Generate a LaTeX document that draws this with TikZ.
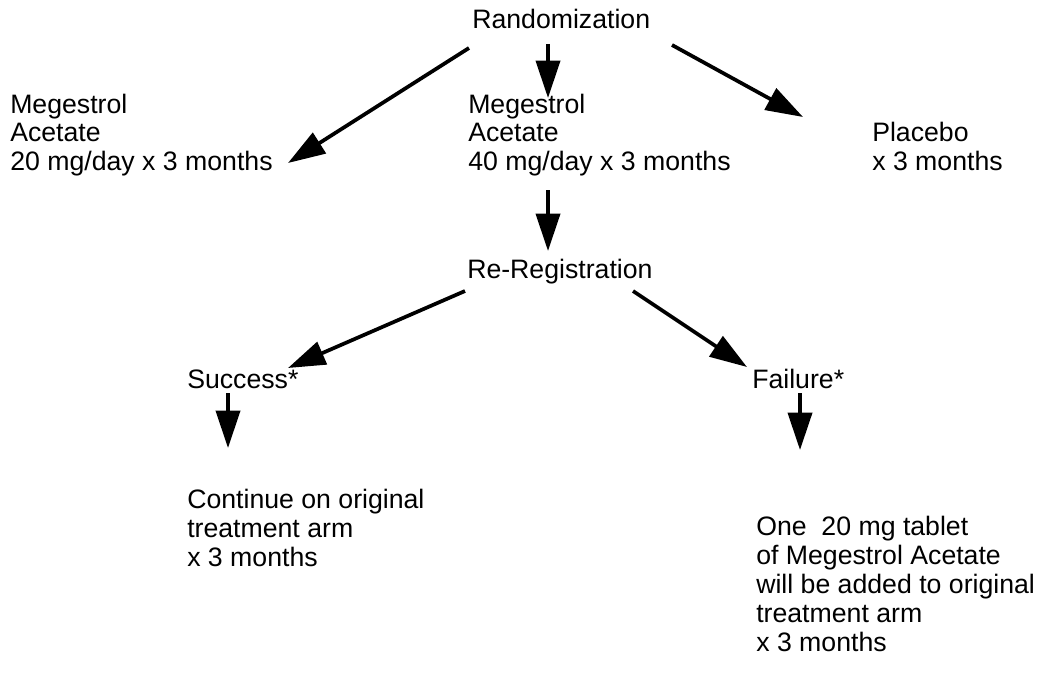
\documentclass[tikz,border=0pt]{standalone}
\usepackage{fontspec}
\setmainfont{Liberation Sans}
\usetikzlibrary{arrows.meta}
\tikzset{
  lbl/.style={inner sep=0pt, anchor=base west, align=left, font=\fontsize{20}{21.75}\selectfont},
  arr/.style={line width=2.8pt, -{Triangle[length=28pt,width=18pt]}}
}
\begin{document}
\begin{tikzpicture}[x=0.75pt,y=-0.75pt]
\useasboundingbox (0,0) rectangle (1037,681);
% multi-line nodes: base anchor is the last line's baseline
\node[lbl] (rand) at (472,29) {Randomization};
\node[lbl] (m20) at (10,171) {Megestrol\\Acetate\\20 mg/day x 3 months};
\node[lbl] (m40) at (468,171) {Megestrol\\Acetate\\40 mg/day x 3 months};
\node[lbl] (plac) at (872,171) {Placebo\\x 3 months};
\node[lbl] (rereg) at (467,278) {Re-Registration};
\node[lbl] (succ) at (187,388) {Success*};
\node[lbl] (fail) at (752,388) {Failure*};
\node[lbl] (cont) at (187,566) {Continue on original\\treatment arm\\x 3 months};
\node[lbl] (one) at (756,651) {One\ \ 20 mg tablet\\of Megestrol Acetate\\will be added to original\\treatment arm\\x 3 months};
% connector ends
\coordinate (r1) at (469,48); \coordinate (t1) at (288,163);
\coordinate (r2) at (548,44); \coordinate (t2) at (548,98);
\coordinate (r3) at (672,45); \coordinate (t3) at (803,117);
\coordinate (m1) at (548,190); \coordinate (t4) at (548,251);
\coordinate (g1) at (465,291); \coordinate (t5) at (288,368);
\coordinate (g2) at (633,291); \coordinate (t6) at (747,367);
\coordinate (s1) at (228,393); \coordinate (t7) at (228,448);
\coordinate (f1) at (800,393); \coordinate (t8) at (800,450);
\draw[arr] (r1) -- (t1);
\draw[arr] (r2) -- (t2);
\draw[arr] (r3) -- (t3);
\draw[arr] (m1) -- (t4);
\draw[arr] (g1) -- (t5);
\draw[arr] (g2) -- (t6);
\draw[arr] (s1) -- (t7);
\draw[arr] (f1) -- (t8);
\end{tikzpicture}
\end{document}
